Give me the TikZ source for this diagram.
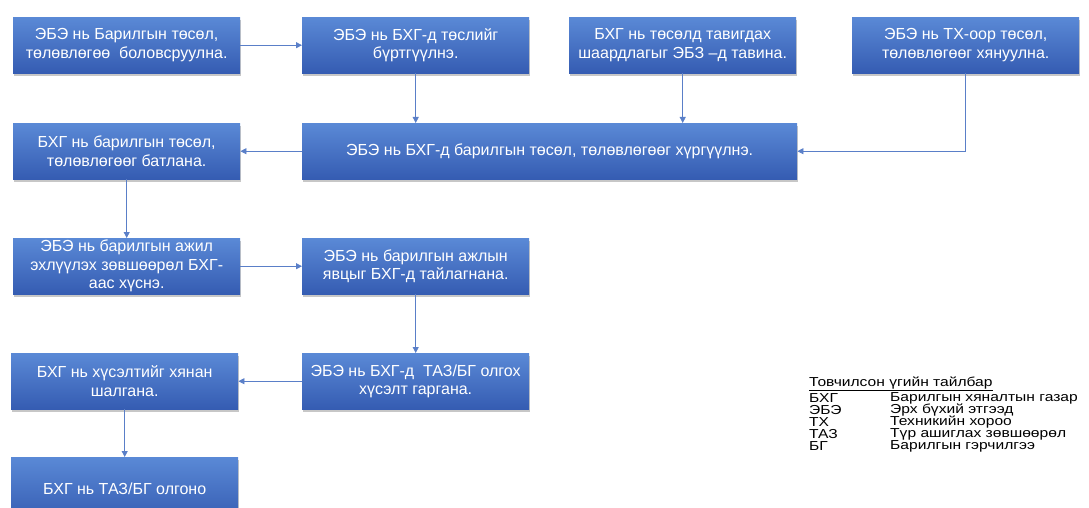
\documentclass[tikz,border=0pt]{standalone}
\usepackage{fontspec}
\setmainfont{Liberation Sans}
\newfontfamily\legfont[FakeStretch=1.2]{Liberation Sans}
\usetikzlibrary{arrows.meta,shadows}
\definecolor{boxtop}{RGB}{90,137,214}
\definecolor{boxbot}{RGB}{53,92,178}
\definecolor{arr}{RGB}{90,127,200}
\tikzset{
 flowbox/.style={anchor=north west, minimum width=227pt, minimum height=56pt, inner sep=0pt,
   top color=boxtop, bottom color=boxbot, text=white, align=center,
   font=\fontsize{16}{18.5}\selectfont,
   drop shadow={shadow xshift=1pt, shadow yshift=-2.5pt, opacity=0.4, fill=black!55}},
 conn/.style={draw=arr, line width=0.8pt, -{Triangle[length=6pt,width=6pt]}},
 legend/.style={anchor=west, inner sep=0pt, font=\legfont\fontsize{13}{13}\selectfont}
}
\begin{document}
\begin{tikzpicture}[x=1pt,y=-1pt]
\useasboundingbox (0,0) rectangle (1089,508);
\node[flowbox] (b1) at (13,17) {ЭБЭ нь Барилгын төсөл,\\төлөвлөгөө\ \ боловсруулна.};
\node[flowbox] (b2) at (302,17) {ЭБЭ нь БХГ-д төслийг\\бүртгүүлнэ.};
\node[flowbox] (b3) at (569,17) {БХГ нь төсөлд тавигдах\\шаардлагыг ЭБЗ –д тавина.};
\node[flowbox] (b4) at (852,17) {ЭБЭ нь ТХ-оор төсөл,\\төлөвлөгөөг хянуулна.};
\node[flowbox, minimum width=495pt] (b5) at (302,123) {ЭБЭ нь БХГ-д барилгын төсөл, төлөвлөгөөг хүргүүлнэ.};
\node[flowbox] (b6) at (13,123) {БХГ нь барилгын төсөл,\\төлөвлөгөөг батлана.};
\node[flowbox] (b7) at (13,238) {ЭБЭ нь барилгын ажил\\эхлүүлэх зөвшөөрөл БХГ-\\аас хүснэ.};
\node[flowbox] (b8) at (302,238) {ЭБЭ нь барилгын ажлын\\явцыг БХГ-д тайлагнана.};
\node[flowbox] (b9) at (302,353) {ЭБЭ нь БХГ-д\ \ ТАЗ/БГ олгох\\хүсэлт гаргана.};
\node[flowbox] (b10) at (11,353) {БХГ нь хүсэлтийг хянан\\шалгана.};
\node[flowbox, minimum height=64pt] (b11) at (11,457) {БХГ нь ТАЗ/БГ олгоно};

\draw[conn] (b1) -- (b2);
\draw[conn] (b2.south) -- (b2.south |- b5.north);
\draw[conn] (b3.south) -- (b3.south |- b5.north);
\draw[conn] (b4.south) |- (b5.east);
\draw[conn] (b5.west) -- (b6.east);
\draw[conn] (b6.south) -- (b7.north);
\draw[conn] (b7.east) -- (b8.west);
\draw[conn] (b8.south) -- (b9.north);
\draw[conn] (b9.west) -- (b10.east);
\draw[conn] (b10.south) -- (b11.north);

\node[legend] (lt) at (809,384) {\underline{Товчилсон үгийн тайлбар}};
\node[legend] (l1a) at (809,398.5) {БХГ};
\node[legend] (l1b) at (890,398.5) {Барилгын хяналтын газар};
\node[legend] (l2a) at (809,410.5) {ЭБЭ};
\node[legend] (l2b) at (890,410.5) {Эрх бүхий этгээд};
\node[legend] (l3a) at (809,422.5) {ТХ};
\node[legend] (l3b) at (890,422.5) {Техникийн хороо};
\node[legend] (l4a) at (809,434.5) {ТАЗ};
\node[legend] (l4b) at (890,434.5) {Түр ашиглах зөвшөөрөл};
\node[legend] (l5a) at (809,446.5) {БГ};
\node[legend] (l5b) at (890,446.5) {Барилгын гэрчилгээ};
\end{tikzpicture}
\end{document}
